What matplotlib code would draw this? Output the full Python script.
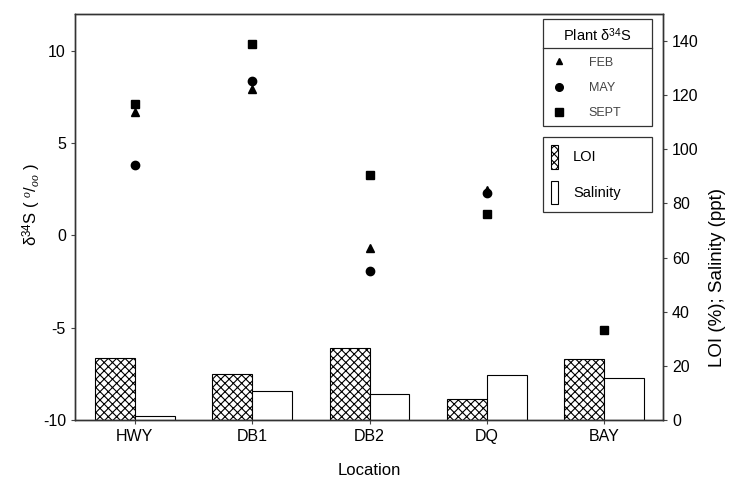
import matplotlib
matplotlib.use("Agg")
import matplotlib.pyplot as plt
import numpy as np
from matplotlib.patches import Patch
from matplotlib.lines import Line2D

plt.rcParams['font.family'] = ['Liberation Sans', 'DejaVu Sans']
plt.rcParams['mathtext.fontset'] = 'custom'
plt.rcParams['mathtext.rm'] = 'Liberation Sans'
plt.rcParams['mathtext.it'] = 'Liberation Serif:italic'
plt.rcParams['hatch.linewidth'] = 0.8
plt.rcParams['axes.unicode_minus'] = False

locations = ['HWY', 'DB1', 'DB2', 'DQ', 'BAY']
feb = [6.7, 7.95, -0.7, 2.45, np.nan]
may = [3.8, 8.35, -1.9, 2.3, np.nan]
sept = [7.1, 10.35, 3.25, 1.15, -5.1]
loi = [22.9, 17.1, 26.7, 7.9, 22.4]
salinity = [1.3, 10.6, 9.6, 16.7, 15.4]

fig = plt.figure(figsize=(7.29, 4.98), dpi=100)
ax = fig.add_axes([75/729, 78/498, 588/729, 406/498])
ax2 = ax.twinx()

x = np.arange(len(locations))
w = 0.34
ax2.bar(x - w/2, loi, width=w, facecolor='white', edgecolor='black',
        hatch='xxxx', linewidth=0.8, zorder=1)
ax2.bar(x + w/2, salinity, width=w, facecolor='white', edgecolor='black',
        linewidth=0.8, zorder=1)
ax2.set_ylim(0, 150)
ax2.set_yticks([0, 20, 40, 60, 80, 100, 120, 140])
ax2.set_ylabel('LOI (%); Salinity (ppt)', fontsize=13.5)
ax2.yaxis.set_label_coords(1.078, 0.352)

ax.set_zorder(ax2.get_zorder() + 1)
ax.patch.set_visible(False)
ax.plot(x, sept, 's', color='black', markersize=6, zorder=3)
ax.plot(x, may, 'o', color='black', markersize=6, zorder=3)
ax.plot(x, feb, '^', color='black', markersize=5.5, zorder=3)
ax.set_ylim(-10, 12)
ax.set_yticks([-10, -5, 0, 5, 10])
ax.set_xlim(-0.51, 4.5)
ax.set_xticks(x)
ax.set_xticklabels(locations)
ax.set_xlabel('Location', fontsize=12, labelpad=14)
ax.set_ylabel('δ$^{34}$S ( $^{o}/_{oo}$ )', fontsize=12)
ax.yaxis.set_label_coords(-0.054, 0.53)

for a in (ax, ax2):
    a.tick_params(labelsize=11.5, length=3, width=0.8, color='#444444')
    for s in a.spines.values():
        s.set_linewidth(1.0)
        s.set_color('#333333')

h1 = [Line2D([], [], marker='^', ls='', color='black', markersize=5),
      Line2D([], [], marker='o', ls='', color='black', markersize=5.5),
      Line2D([], [], marker='s', ls='', color='black', markersize=5.5)]
leg1 = ax.legend(h1, ['FEB', 'MAY', 'SEPT'], title='Plant δ$^{34}$S',
                 loc='upper left', bbox_to_anchor=(0.796, 0.712, 0.185, 0.276),
                 mode='expand', borderaxespad=0, fancybox=False,
                 edgecolor='#333333', framealpha=1, fontsize=9,
                 title_fontsize=10.5, labelspacing=1.05, handletextpad=1.6,
                 borderpad=0.55, labelcolor='#444444', handlelength=1.5)
leg1.get_frame().set_linewidth(0.9)
ax.add_artist(leg1)

h2 = [Patch(facecolor='white', edgecolor='black', hatch='xxxx', linewidth=0.8),
      Patch(facecolor='white', edgecolor='black', linewidth=0.8)]
leg2 = ax.legend(h2, ['LOI', 'Salinity'], loc='upper left',
                 bbox_to_anchor=(0.796, 0.512, 0.185, 0.185), mode='expand',
                 borderaxespad=0, fancybox=False, edgecolor='#333333',
                 framealpha=1, fontsize=10.5, handlelength=0.5,
                 handleheight=2.1, labelspacing=0.85, handletextpad=1.0,
                 borderpad=0.55)
leg2.get_frame().set_linewidth(0.9)

fig.canvas.draw()
r = fig.canvas.get_renderer()
tb = leg1.get_title().get_window_extent(r)
fb = leg1.get_frame().get_window_extent(r)
ysep = tb.y0 - 4
inv = fig.transFigure.inverted()
p0 = inv.transform((fb.x0, ysep))
p1 = inv.transform((fb.x1, ysep))
fig.add_artist(Line2D([p0[0], p1[0]], [p0[1], p1[1]], color='#333333',
                      linewidth=0.9, transform=fig.transFigure, zorder=10))

fig.savefig('out.png', dpi=100)
